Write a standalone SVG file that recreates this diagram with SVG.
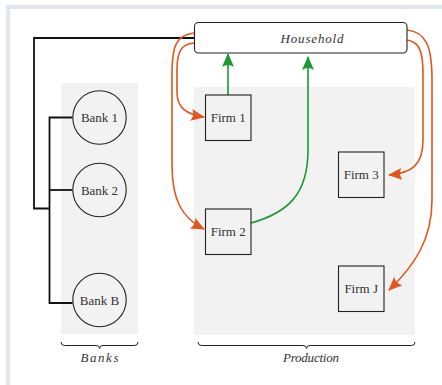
<svg xmlns="http://www.w3.org/2000/svg" width="442" height="385" viewBox="0 0 442 385">
  <style>
    .panel { fill: #f2f2f2; }
    .box { fill: #ffffff; stroke: #222; stroke-width: 1.1; }
    .firm { fill: none; stroke: #222; stroke-width: 1.1; }
    .bank { fill: none; stroke: #222; stroke-width: 1.1; }
    text { font-family: "Liberation Serif", "DejaVu Serif", serif; font-size: 13px; fill: #333; text-anchor: middle; }
    .it { font-style: italic; }
    .wire { fill: none; stroke: #111; stroke-width: 1.8; }
    .flow-o { fill: none; stroke: #e0571b; stroke-width: 1.6; }
    .flow-g { fill: none; stroke: #1a9a30; stroke-width: 1.6; }
    .brace { fill: none; stroke: #222; stroke-width: 1; }
  </style>
  <defs>
    <marker id="tipO" markerUnits="userSpaceOnUse" viewBox="0 0 14 12" markerWidth="14" markerHeight="12" refX="13" refY="6" orient="auto">
      <path d="M0,0 L14,6 L0,12 Q4,6 0,0 Z" fill="#e0571b"/>
    </marker>
    <marker id="tipG" markerUnits="userSpaceOnUse" viewBox="0 0 14 12" markerWidth="14" markerHeight="12" refX="13" refY="6" orient="auto">
      <path d="M0,0 L14,6 L0,12 Q4,6 0,0 Z" fill="#1a9a30"/>
    </marker>
  </defs>

  <!-- page frame -->
  <rect x="0" y="0" width="442" height="385" fill="#ffffff"/>
  <path d="M8,392 L8,7 L450,7" fill="none" stroke="#dfe7ee" stroke-width="4"/>

  <!-- panels -->
  <rect class="panel" x="61" y="83" width="77" height="251"/>
  <rect class="panel" x="194" y="87" width="221" height="248"/>

  <!-- connectors -->
  <g id="connectors">
    <path class="wire" d="M194,38 L34,38 L34,208.5 L49.5,208.5"/>
    <path class="wire" d="M72.5,117.5 L49.5,117.5 L49.5,303 L72.5,303"/>
    <path class="wire" d="M49.5,190 L72.5,190"/>

    <path class="flow-g" d="M228,95 L228,54" marker-end="url(#tipG)"/>
    <path class="flow-g" d="M251,223 C287,213 308,195 308,150 L308,57" marker-end="url(#tipG)"/>

    <path class="flow-o" d="M194,43 C181,44 177,52 177,70 L177,92 C177,108 186,114 204,117" marker-end="url(#tipO)"/>
    <path class="flow-o" d="M194,33 C176,35 172,46 172,75 L172,165 C172,200 182,218 204,229" marker-end="url(#tipO)"/>
    <path class="flow-o" d="M407,40 C420,42 423,52 423,75 L423,140 C423,165 412,173 389,175" marker-end="url(#tipO)"/>
    <path class="flow-o" d="M407,30 C426,32 432,46 432,80 L432,200 C432,240 414,266 389,290" marker-end="url(#tipO)"/>
  </g>

  <!-- nodes -->
  <g id="household">
    <rect class="box" x="194.5" y="22.5" width="212.5" height="30.5" rx="4"/>
    <text class="it" x="312" y="42.5" font-family="Liberation Serif" textLength="63" lengthAdjust="spacing">Household</text>
  </g>

  <g id="bank1">
    <circle class="bank" cx="99.5" cy="117.5" r="26.7"/>
    <text x="99.5" y="122" font-family="Liberation Serif">Bank 1</text>
  </g>
  <g id="bank2">
    <circle class="bank" cx="99.5" cy="190" r="26.7"/>
    <text x="99.5" y="194.5" font-family="Liberation Serif">Bank 2</text>
  </g>
  <g id="bankB">
    <circle class="bank" cx="99.5" cy="300" r="26.7"/>
    <text x="99.5" y="305" font-family="Liberation Serif">Bank B</text>
  </g>

  <g id="firm1">
    <rect class="firm" x="205.5" y="95" width="45.5" height="45.5"/>
    <text x="228.2" y="122" font-family="Liberation Serif">Firm 1</text>
  </g>
  <g id="firm2">
    <rect class="firm" x="205.5" y="209" width="45.5" height="45.5"/>
    <text x="228.2" y="236" font-family="Liberation Serif">Firm 2</text>
  </g>
  <g id="firm3">
    <rect class="firm" x="338.5" y="152" width="45.5" height="45.5"/>
    <text x="361.2" y="179" font-family="Liberation Serif">Firm 3</text>
  </g>
  <g id="firmJ">
    <rect class="firm" x="338.5" y="266" width="45.5" height="45.5"/>
    <text x="361.2" y="293" font-family="Liberation Serif">Firm J</text>
  </g>

  <!-- braces and group labels -->
  <g id="banks-brace">
    <path class="brace" d="M61,342 Q61,345.5 64.5,345.5 L96,345.5 Q99.5,345.5 99.5,348.5 Q99.5,345.5 103,345.5 L134.5,345.5 Q138,345.5 138,342"/>
    <text class="it" x="99.5" y="361.5" font-family="Liberation Serif" textLength="38" lengthAdjust="spacing">Banks</text>
  </g>
  <g id="production-brace">
    <path class="brace" d="M198,342 Q198,345.5 201.5,345.5 L303,345.5 Q306.5,345.5 306.5,348.5 Q306.5,345.5 310,345.5 L411.5,345.5 Q415,345.5 415,342"/>
    <text class="it" x="311" y="361.5" font-family="Liberation Serif" textLength="56" lengthAdjust="spacing">Production</text>
  </g>
</svg>
